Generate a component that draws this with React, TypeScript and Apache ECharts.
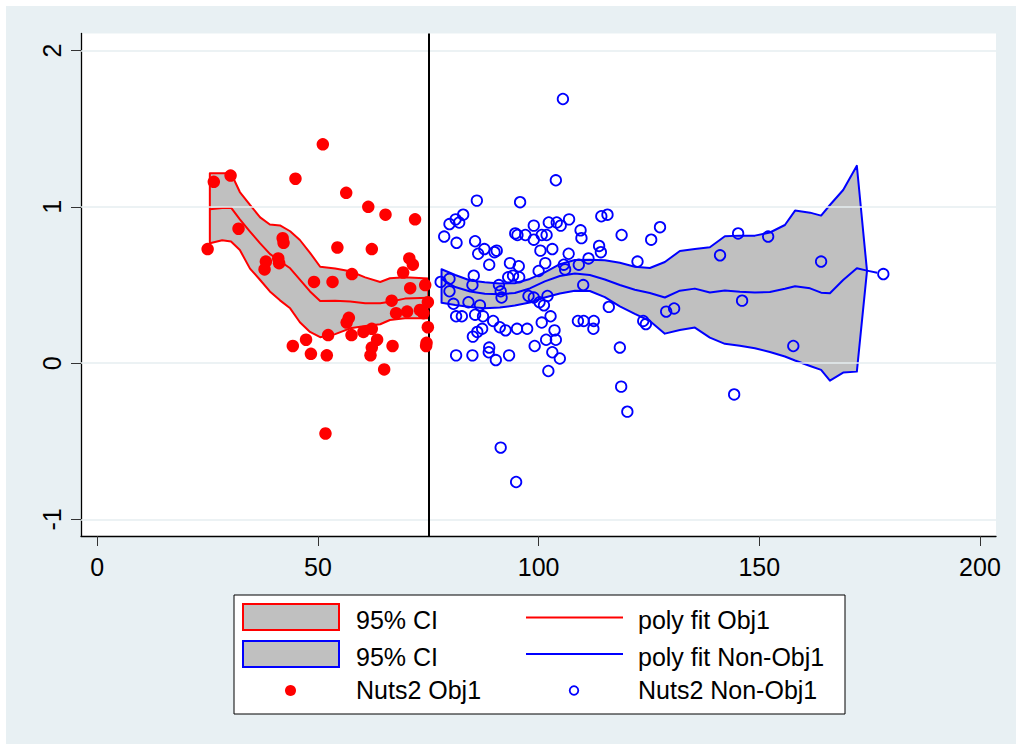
import React, { useEffect, useRef } from "react";
import * as echarts from "echarts";

const FONT = '"Liberation Sans", Arial, Helvetica, sans-serif';
const RED = "#ff0000";
const BLUE = "#0000ff";
const BAND_FILL = "#c0c0c0";
const GRID_COLOR = "#e6eef1";

// Axis ticks and the cut-off line
const xTicks = [0, 50, 100, 150, 200];
const yTicks = [-1, 0, 1, 2];
const cutoffX = 75;

// Nuts2 regions, Objective 1
const obj1Points: number[][] = [
  [51.1, 1.4], [30.2, 1.2], [26.4, 1.16], [44.9, 1.18], [56.4, 1.09], [61.4, 1.0],
  [65.3, 0.95], [72.0, 0.92], [32.0, 0.86], [42.0, 0.8], [42.2, 0.77], [25.0, 0.73],
  [54.4, 0.74], [62.2, 0.73], [38.2, 0.65], [41.0, 0.67], [41.2, 0.64], [37.9, 0.6],
  [70.7, 0.67], [71.5, 0.63], [69.3, 0.58], [57.7, 0.57], [49.1, 0.52], [53.3, 0.52],
  [70.9, 0.48], [74.3, 0.5], [66.7, 0.4], [74.9, 0.39], [73.1, 0.34], [67.7, 0.32],
  [70.2, 0.33], [73.9, 0.32], [57.0, 0.29], [56.5, 0.26], [62.2, 0.22], [60.3, 0.2],
  [57.6, 0.18], [52.3, 0.18], [74.9, 0.23], [63.4, 0.15], [47.3, 0.15], [44.3, 0.11],
  [66.9, 0.11], [62.2, 0.1], [61.9, 0.05], [74.6, 0.13], [74.5, 0.11], [48.4, 0.06],
  [52.0, 0.05], [65.0, -0.04], [51.7, -0.45],
];

// Nuts2 regions, non-Objective 1
const nonObj1Points: number[][] = [
  [105.5, 1.69], [103.9, 1.17], [86.0, 1.04], [95.8, 1.03], [82.9, 0.95], [81.2, 0.92],
  [79.8, 0.89], [82.0, 0.9], [78.6, 0.81], [81.4, 0.77], [85.6, 0.78], [86.3, 0.7],
  [87.7, 0.73], [90.0, 0.71], [90.5, 0.72], [88.8, 0.63], [94.7, 0.83], [95.2, 0.82],
  [97.0, 0.82], [98.9, 0.88], [98.9, 0.79], [100.7, 0.82], [101.8, 0.82], [102.3, 0.9],
  [104.1, 0.9], [105.0, 0.88], [106.9, 0.92], [109.5, 0.85], [109.7, 0.8], [100.4, 0.72],
  [103.1, 0.73], [106.8, 0.7], [113.7, 0.75], [114.1, 0.71], [114.2, 0.94], [115.6, 0.95],
  [118.8, 0.82], [122.4, 0.65], [111.3, 0.67], [109.1, 0.63], [93.5, 0.64], [95.5, 0.62],
  [93.1, 0.55], [94.2, 0.56], [95.6, 0.55], [101.5, 0.64], [100.0, 0.59], [105.7, 0.63],
  [106.0, 0.6], [77.8, 0.52], [79.8, 0.54], [85.3, 0.56], [85.0, 0.5], [91.0, 0.5],
  [110.1, 0.5], [79.8, 0.46], [91.4, 0.46], [91.6, 0.42], [97.7, 0.43], [98.9, 0.42],
  [102.0, 0.43], [100.2, 0.39], [101.2, 0.37], [115.9, 0.36], [80.7, 0.38], [84.1, 0.39],
  [86.7, 0.37], [85.6, 0.31], [87.4, 0.3], [81.3, 0.3], [82.6, 0.3], [102.7, 0.3],
  [89.7, 0.27], [91.2, 0.23], [92.5, 0.21], [95.1, 0.22], [97.4, 0.22], [100.7, 0.26],
  [108.9, 0.27], [110.2, 0.27], [112.5, 0.27], [112.4, 0.22], [103.6, 0.21], [87.2, 0.22],
  [86.1, 0.2], [85.1, 0.17], [101.7, 0.15], [103.9, 0.15], [99.1, 0.11], [88.8, 0.1],
  [88.7, 0.07], [90.3, 0.02], [103.1, 0.07], [104.8, 0.03], [81.3, 0.05], [85.0, 0.05],
  [93.3, 0.05], [118.4, 0.1], [102.2, -0.05], [118.7, -0.15], [120.1, -0.31], [91.4, -0.54],
  [94.9, -0.76], [127.5, 0.87], [125.5, 0.79], [123.7, 0.27], [124.3, 0.25], [128.9, 0.33],
  [130.7, 0.35], [141.1, 0.69], [145.2, 0.83], [152.0, 0.81], [146.1, 0.4], [144.3, -0.2],
  [157.7, 0.11], [164.0, 0.65], [178.1, 0.57],
];

// Local polynomial fit and 95% CI, Objective 1
const obj1BandX = [
  25.5, 28.3, 30.3, 32.3, 34.6, 36.9, 39.1, 41.4, 43.7, 45.9, 48.2, 50.5, 53.9, 57.3,
  60.7, 64.1, 66.3, 69.7, 75.0,
];
const obj1Upper = [
  1.215, 1.215, 1.215, 1.095, 1.012, 0.933, 0.887, 0.881, 0.844, 0.788, 0.706, 0.617,
  0.606, 0.588, 0.549, 0.519, 0.543, 0.549, 0.541,
];
const obj1Lower = [
  0.767, 0.786, 0.778, 0.724, 0.605, 0.532, 0.459, 0.402, 0.351, 0.262, 0.2, 0.166,
  0.186, 0.223, 0.238, 0.249, 0.276, 0.287, 0.287,
];
const obj1Fit = [
  0.985, 0.993, 0.995, 0.92, 0.842, 0.766, 0.699, 0.652, 0.607, 0.535, 0.459, 0.398,
  0.399, 0.394, 0.384, 0.384, 0.393, 0.413, 0.419,
];

// Local polynomial fit and 95% CI, non-Objective 1
const nonObj1BandX = [
  78.0, 81.1, 84.5, 87.8, 91.2, 94.6, 98.0, 101.4, 104.8, 108.2, 111.6, 115.0, 118.4,
  121.8, 125.2, 128.6, 132.0, 135.4, 138.8, 142.2, 145.6, 149.0, 152.4, 155.8, 158.1,
  161.5, 164.0, 166.0, 169.0, 172.1, 174.4,
];
const nonObj1Upper = [
  0.601, 0.564, 0.529, 0.517, 0.51, 0.511, 0.539, 0.581, 0.633, 0.66, 0.662, 0.658,
  0.642, 0.617, 0.609, 0.647, 0.718, 0.731, 0.742, 0.812, 0.816, 0.816, 0.836, 0.884,
  0.976, 0.963, 0.944, 1.012, 1.108, 1.263, 0.59,
];
const nonObj1Lower = [
  0.387, 0.372, 0.359, 0.352, 0.356, 0.369, 0.388, 0.42, 0.446, 0.463, 0.462, 0.423,
  0.363, 0.315, 0.27, 0.189, 0.212, 0.228, 0.164, 0.124, 0.112, 0.095, 0.072, 0.043,
  0.017, -0.018, -0.043, -0.112, -0.06, -0.054, 0.59,
];
const nonObj1FitX = [...nonObj1BandX, 176.7];
const nonObj1Fit = [
  0.539, 0.487, 0.459, 0.444, 0.441, 0.449, 0.478, 0.523, 0.558, 0.574, 0.564, 0.535,
  0.5, 0.47, 0.449, 0.42, 0.464, 0.477, 0.452, 0.465, 0.457, 0.452, 0.456, 0.476,
  0.492, 0.479, 0.451, 0.447, 0.532, 0.607, 0.592, 0.579,
];

function zip(xs: number[], ys: number[]): number[][] {
  return xs.map((x, i) => [x, ys[i]]);
}

function bandSeries(name: string, xs: number[], upper: number[], lower: number[], stroke: string) {
  const pts = zip(xs, upper).concat(zip(xs, lower).reverse());
  return {
    name,
    type: "custom",
    z: 2,
    silent: true,
    data: pts,
    renderItem: (params: any, api: any) => {
      if (params.dataIndex !== 0) return { type: "group", children: [] };
      return {
        type: "polygon",
        shape: { points: pts.map((p) => api.coord(p)) },
        style: { fill: BAND_FILL, stroke, lineWidth: 2, lineJoin: "round" },
      };
    },
  };
}

function fitSeries(name: string, xs: number[], ys: number[], color: string) {
  return {
    name,
    type: "line",
    z: 3,
    silent: true,
    data: zip(xs, ys),
    showSymbol: false,
    symbol: "none",
    lineStyle: { color, width: 2, join: "round" },
  };
}

const legendText = (text: string, x: number, y: number) => ({
  type: "text",
  z: 100,
  style: {
    text,
    x,
    y,
    fill: "#000",
    fontSize: 25,
    fontFamily: FONT,
    align: "left",
    verticalAlign: "middle",
  },
});

const legendElements = [
  {
    type: "rect",
    z: 99,
    shape: { x: 234, y: 595, width: 611, height: 119 },
    style: { fill: "#ffffff", stroke: "#000000", lineWidth: 1 },
  },
  {
    type: "rect",
    z: 100,
    shape: { x: 243, y: 604, width: 96, height: 26 },
    style: { fill: BAND_FILL, stroke: RED, lineWidth: 2 },
  },
  legendText("95% CI", 356, 620),
  {
    type: "line",
    z: 100,
    shape: { x1: 526, y1: 617.5, x2: 623, y2: 617.5 },
    style: { stroke: RED, lineWidth: 2 },
  },
  legendText("poly fit Obj1", 638, 620),
  {
    type: "rect",
    z: 100,
    shape: { x: 243, y: 641, width: 96, height: 26 },
    style: { fill: BAND_FILL, stroke: BLUE, lineWidth: 2 },
  },
  legendText("95% CI", 356, 657),
  {
    type: "line",
    z: 100,
    shape: { x1: 526, y1: 654, x2: 623, y2: 654 },
    style: { stroke: BLUE, lineWidth: 2 },
  },
  legendText("poly fit Non-Obj1", 638, 657),
  {
    type: "circle",
    z: 100,
    shape: { cx: 290.5, cy: 690.5, r: 5.5 },
    style: { fill: RED },
  },
  legendText("Nuts2 Obj1", 356, 690),
  {
    type: "circle",
    z: 100,
    shape: { cx: 574, cy: 690.5, r: 4.3 },
    style: { fill: "none", stroke: BLUE, lineWidth: 1.8 },
  },
  legendText("Nuts2 Non-Obj1", 638, 690),
];

const option: any = {
  animation: false,
  backgroundColor: "transparent",
  grid: {
    show: true,
    left: 81,
    right: 20,
    top: 33.5,
    bottom: 208,
    backgroundColor: "#ffffff",
    borderWidth: 0,
  },
  xAxis: {
    type: "value",
    min: -3.693,
    max: 203.63,
    axisLine: { onZero: false, lineStyle: { color: "#000", width: 1.3 } },
    axisTick: { customValues: xTicks, length: 10, lineStyle: { color: "#333", width: 1 } },
    axisLabel: {
      customValues: xTicks,
      margin: 18,
      fontSize: 25,
      fontFamily: FONT,
      color: "#000",
    },
    splitLine: { show: false },
  },
  yAxis: {
    type: "value",
    min: -1.1055,
    max: 2.109,
    axisLine: { onZero: false, lineStyle: { color: "#000", width: 1.3 } },
    axisTick: { customValues: yTicks, length: 10, lineStyle: { color: "#333", width: 1 } },
    axisLabel: {
      customValues: yTicks,
      rotate: 90,
      margin: 17,
      fontSize: 25,
      fontFamily: FONT,
      color: "#000",
    },
    splitLine: { show: false },
  },
  graphic: { elements: legendElements },
  series: [
    {
      name: "grid",
      type: "line",
      z: 1,
      silent: true,
      data: [],
      markLine: {
        silent: true,
        symbol: "none",
        label: { show: false },
        lineStyle: { color: GRID_COLOR, width: 1.6, type: "solid" },
        data: yTicks.map((v) => ({ yAxis: v })),
      },
    },
    bandSeries("95% CI Obj1", obj1BandX, obj1Upper, obj1Lower, RED),
    fitSeries("poly fit Obj1", obj1BandX, obj1Fit, RED),
    bandSeries("95% CI Non-Obj1", nonObj1BandX, nonObj1Upper, nonObj1Lower, BLUE),
    fitSeries("poly fit Non-Obj1", nonObj1FitX, nonObj1Fit, BLUE),
    {
      name: "cutoff",
      type: "line",
      z: 4,
      silent: true,
      data: [],
      markLine: {
        silent: true,
        symbol: "none",
        label: { show: false },
        lineStyle: { color: "#000", width: 2, type: "solid" },
        data: [{ xAxis: cutoffX }],
      },
    },
    {
      name: "Nuts2 Obj1",
      type: "scatter",
      z: 5,
      silent: true,
      data: obj1Points,
      symbol: "circle",
      symbolSize: 12.5,
      itemStyle: { color: RED, opacity: 1 },
    },
    {
      name: "Nuts2 Non-Obj1",
      type: "scatter",
      z: 5,
      silent: true,
      data: nonObj1Points,
      symbol: "circle",
      symbolSize: 10.5,
      itemStyle: { color: "transparent", borderColor: BLUE, borderWidth: 1.8, opacity: 1 },
    },
  ],
};

export default function App() {
  const ref = useRef<HTMLDivElement>(null);
  useEffect(() => {
    const chart = echarts.init(ref.current!, null, { renderer: "svg" });
    chart.setOption(option);
    return () => chart.dispose();
  }, []);
  return (
    <div
      style={{
        position: "absolute",
        left: 0,
        top: 0,
        width: 1016,
        height: 744,
        background: "#ffffff",
      }}
    >
      <div
        style={{
          position: "absolute",
          left: 6,
          top: 6,
          width: 1010,
          height: 738,
          background: "#e8f0f3",
        }}
      />
      <div ref={ref} style={{ position: "absolute", left: 0, top: 0, width: 1016, height: 744 }} />
    </div>
  );
}
